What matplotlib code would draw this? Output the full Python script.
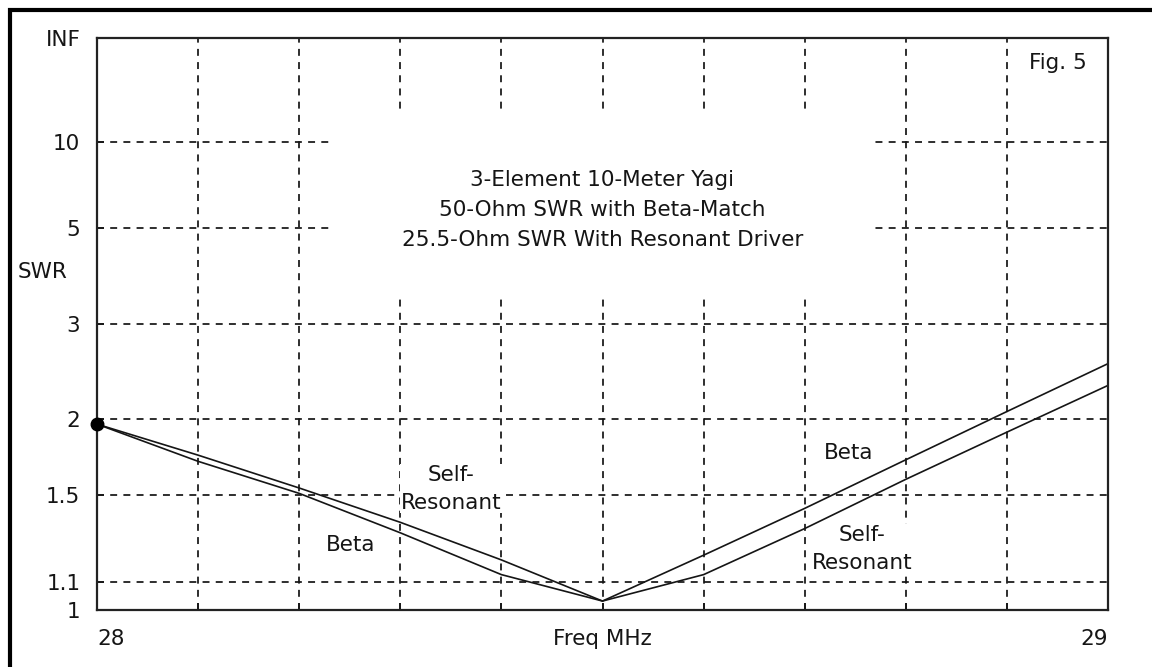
import numpy as np
import matplotlib
matplotlib.use("Agg")
import matplotlib.pyplot as plt
from matplotlib.patches import Rectangle

plt.rcParams['font.family'] = ['DejaVu Sans']
plt.rcParams['lines.scale_dashes'] = False

# Frequency sweep (MHz) and SWR readings for the two feed systems
freq_mhz = [28.0, 28.1, 28.2, 28.3, 28.4, 28.5, 28.6, 28.7, 28.8, 28.9, 29.0]
swr_beta = [1.96, 1.70, 1.51, 1.31, 1.13, 1.03, 1.21, 1.43, 1.71, 2.06, 2.51]
swr_self_res = [1.96, 1.74, 1.54, 1.36, 1.19, 1.03, 1.13, 1.33, 1.59, 1.90, 2.29]

# SWR axis graduations
swr_ticks = [1, 1.1, 1.5, 2, 3, 5, 10, 1e12]
swr_tick_labels = ["1", "1.1", "1.5", "2", "3", "5", "10", "INF"]
swr_grid = [1.1, 1.5, 2, 3, 5, 10]

freq_ticks = [28.0, 28.1, 28.2, 28.3, 28.4, 28.5, 28.6, 28.7, 28.8, 28.9, 29.0]
freq_tick_labels = ["28", "", "", "", "", "Freq MHz", "", "", "", "", "29"]

title_lines = ["3-Element 10-Meter Yagi",
               "50-Ohm SWR with Beta-Match",
               "25.5-Ohm SWR With Resonant Driver"]

INK = '#151515'
FS = 15.5


def to_rho(s):
    s = np.asarray(s, dtype=float)
    return (s - 1.0) / (s + 1.0)


def from_rho(r):
    r = np.clip(np.asarray(r, dtype=float), -0.999999, 0.999999)
    return (1.0 + r) / (1.0 - r)


fig = plt.figure(figsize=(11.52, 6.67), dpi=100)
ax = fig.add_axes([97 / 1152, 57.5 / 667, 1011 / 1152, 571.5 / 667])
ax.set_yscale('function', functions=(to_rho, from_rho))
ax.set_xlim(28.0, 29.0)
ax.set_ylim(1.0, 1e12)

# dashed grid
dash = (0, (5.0, 4.5))
for s in swr_grid:
    ax.axhline(s, color=INK, lw=1.25, ls=dash, zorder=0.5)
for f in freq_ticks[1:-1]:
    ax.axvline(f, color=INK, lw=1.25, ls=dash, zorder=0.5)

# blank panel behind the heading
ax.add_patch(Rectangle((0.2305, 0.545), 0.5351, 0.3255, transform=ax.transAxes,
                       facecolor='white', edgecolor='none', zorder=1))

ax.plot(freq_mhz, swr_self_res, color=INK, lw=1.2, zorder=3.5)
ax.plot(freq_mhz, swr_beta, color=INK, lw=1.2, zorder=3.5)
ax.plot([freq_mhz[0]], [swr_beta[0]], 'o', color='black', ms=9,
        clip_on=False, zorder=4)

ax.set_yticks(swr_ticks)
ax.set_yticklabels(swr_tick_labels)
ax.set_xticks(freq_ticks)
ax.set_xticklabels(freq_tick_labels)
ax.minorticks_off()
ax.tick_params(axis='both', direction='in', length=5, width=1.2, color=INK,
               labelsize=FS, labelcolor=INK)
ax.tick_params(axis='y', pad=12)
ax.tick_params(axis='x', pad=14)
xl = ax.get_xticklabels()
xl[0].set_ha('left')
xl[-1].set_ha('right')

for sp in ax.spines.values():
    sp.set_linewidth(1.6)
    sp.set_color('#222222')
    sp.set_zorder(3.6)

ax.text(0.5, 0.699, "\n".join(title_lines), transform=ax.transAxes,
        ha='center', va='center', fontsize=FS, color=INK, linespacing=1.62,
        zorder=3)
ax.text(0.95, 0.956, "Fig. 5", transform=ax.transAxes, ha='center',
        va='center', fontsize=FS, color=INK, zorder=3)

lbl_box = dict(facecolor='white', edgecolor='none', pad=0.5)
ax.text(0.350, 0.211, "Self-\nResonant", transform=ax.transAxes, ha='center',
        va='center', fontsize=FS, color=INK, linespacing=1.48, bbox=lbl_box,
        zorder=3)
ax.text(0.251, 0.113, "Beta", transform=ax.transAxes, ha='center',
        va='center', fontsize=FS, color=INK, bbox=lbl_box, zorder=3)
ax.text(0.743, 0.274, "Beta", transform=ax.transAxes, ha='center',
        va='center', fontsize=FS, color=INK, bbox=lbl_box, zorder=3)
ax.text(0.757, 0.106, "Self-\nResonant", transform=ax.transAxes, ha='center',
        va='center', fontsize=FS, color=INK, linespacing=1.48, bbox=lbl_box,
        zorder=3)

fig.text(43 / 1152, (667 - 272) / 667, "SWR", ha='center', va='center',
         fontsize=FS, color=INK)

# outer frame of the figure
fig.add_artist(Rectangle((10 / 1152, -1.0), 2.0, 1.0 + (667 - 10) / 667,
                         transform=fig.transFigure, facecolor='none',
                         edgecolor='black', lw=3.0))

fig.savefig("out.png", dpi=100)
